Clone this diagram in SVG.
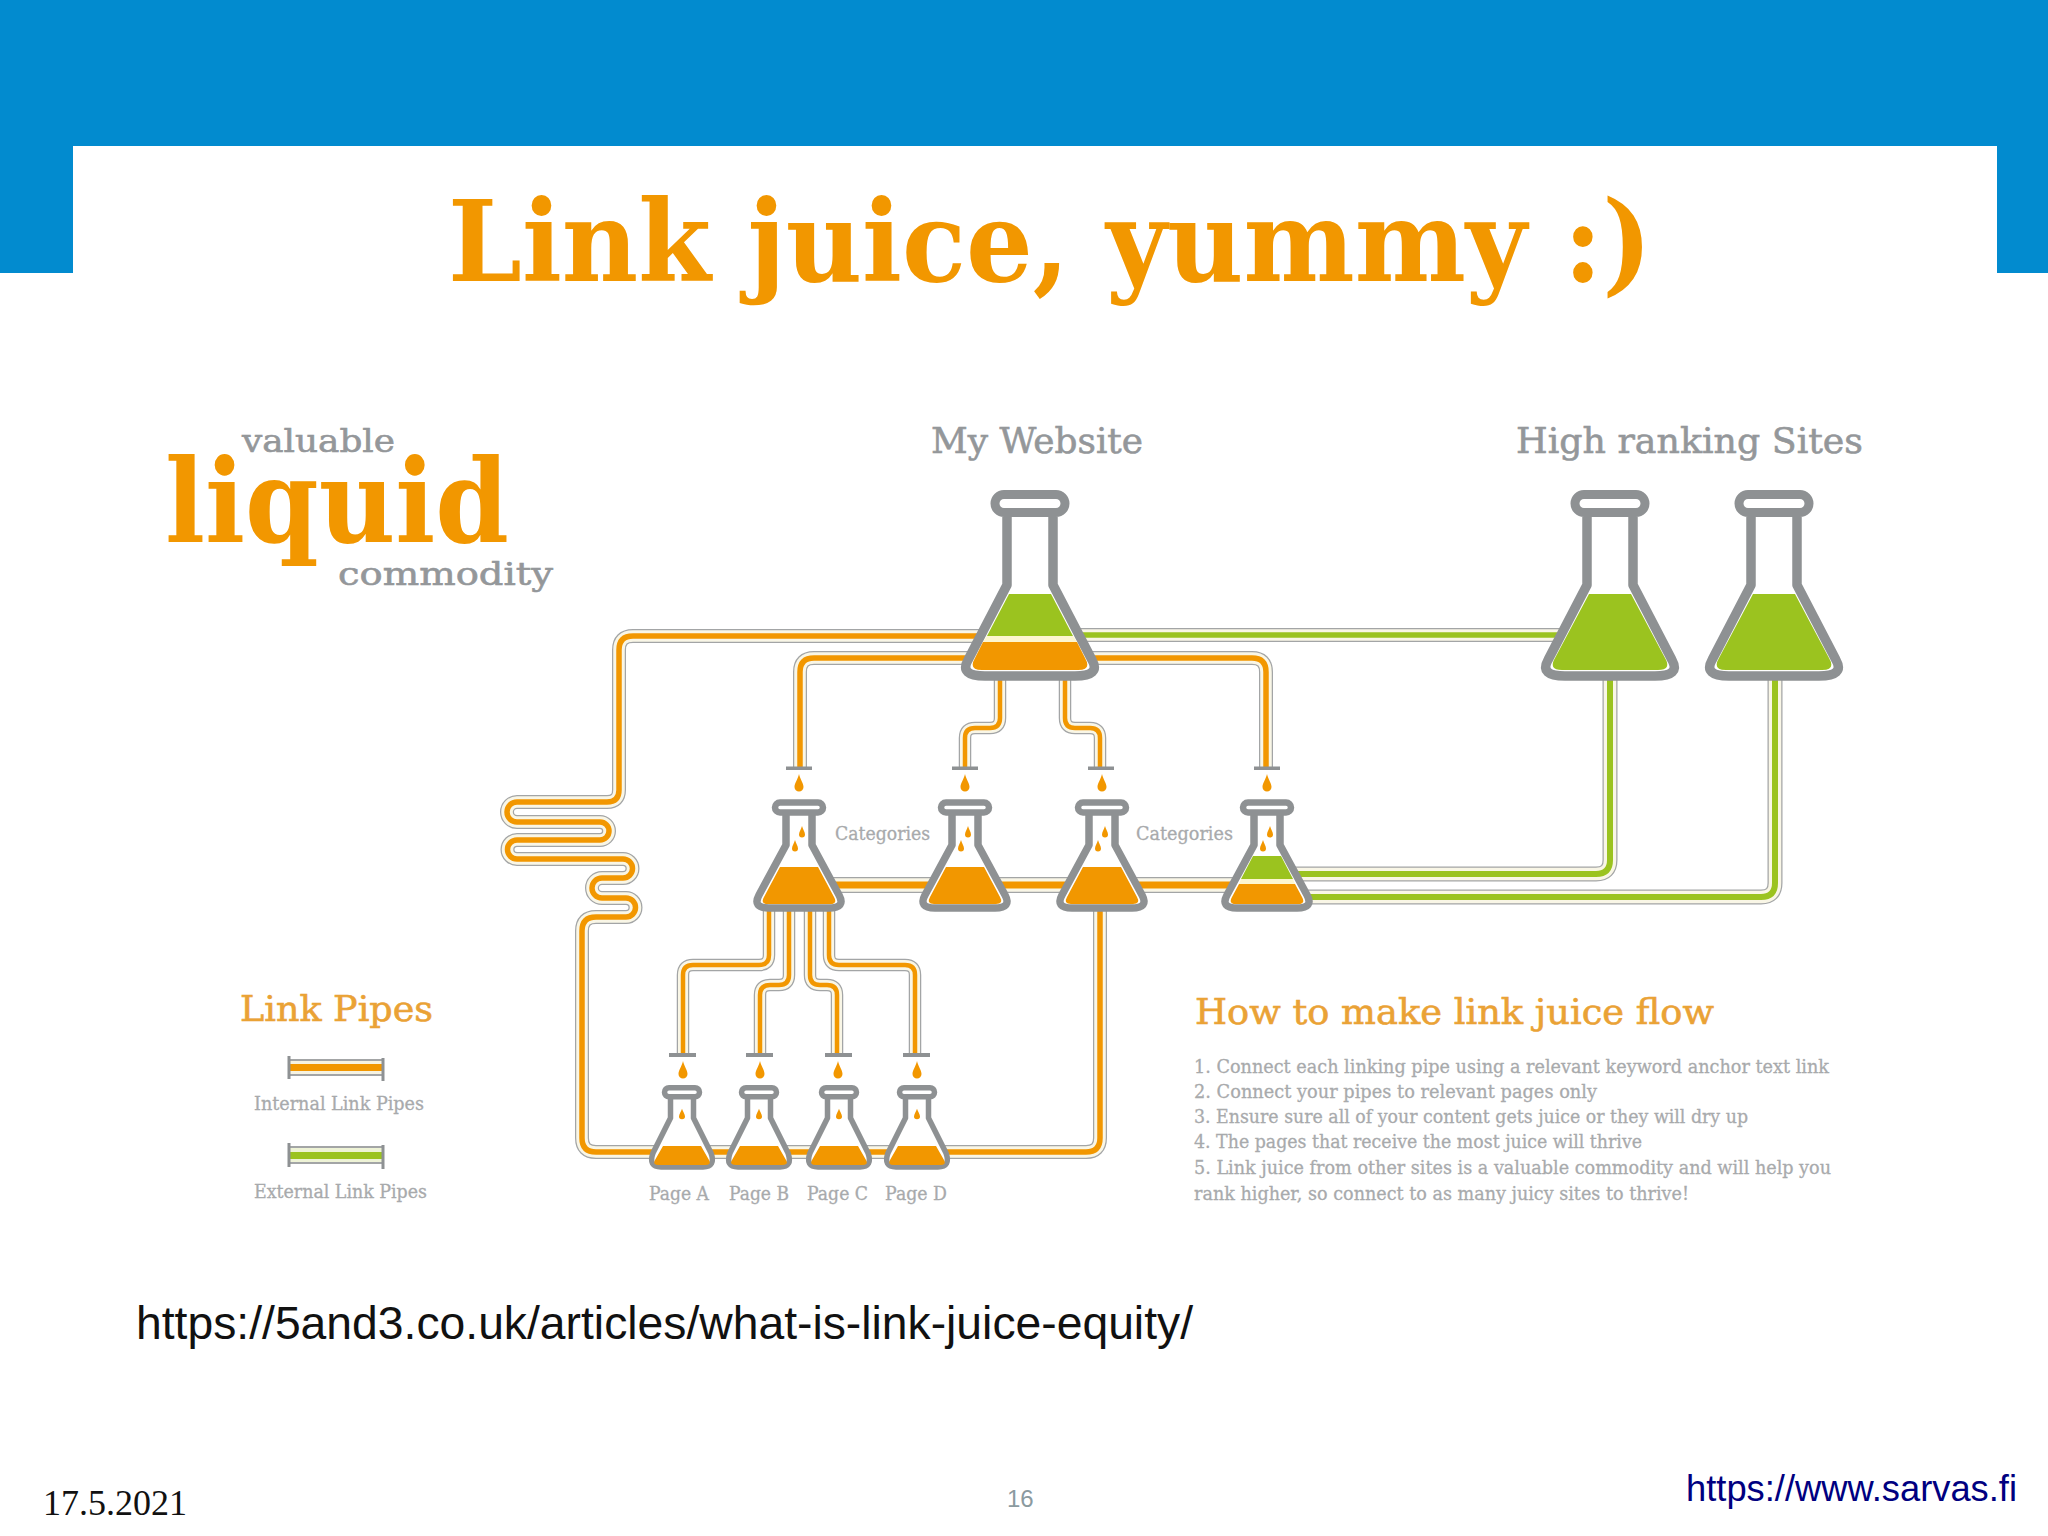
<svg xmlns="http://www.w3.org/2000/svg" xmlns:xlink="http://www.w3.org/1999/xlink" width="2048" height="1536" viewBox="0 0 2048 1536">
<style>
.glass{fill:#fff;stroke:#8e9193;stroke-linejoin:round}
.o{fill:#f29700}.g{fill:#9bc31f}
.w14,.w12,.w16,.w15{fill:none;stroke:#a3a5a6}
.w14{stroke-width:14}.w12{stroke-width:12.500}.w16{stroke-width:16}.w15{stroke-width:15}
.c14,.c12,.c16,.c15{fill:none;stroke:#f9f6e6}
.c14{stroke-width:11.500}.c12{stroke-width:10}.c16{stroke-width:13.500}.c15{stroke-width:12.500}
.co14,.co12,.co16{fill:none;stroke:#f29700}
.cg14,.cg16,.cg15{fill:none;stroke:#9bc31f}
.co14,.cg14{stroke-width:5.500}.co12{stroke-width:4.500}.co16,.cg16{stroke-width:7}.cg15{stroke-width:6}
.fl{fill:#8e9193}
.t{font-family:"DejaVu Serif","Liberation Serif",serif}
.gr{fill:#94979a;stroke:#94979a;stroke-width:.6}.lg{fill:#a8aaac;stroke:#a8aaac;stroke-width:.3}.or{fill:#f29700}.lo{fill:#eaa235;stroke:#eaa235;stroke-width:.6}
.b{font-weight:bold}
</style>
<defs>
<path id="drop" d="M0-9C1-4 4.500 0 4.500 4A4.500 4.500 0 0 1-4.500 4C-4.500 0-1-4 0-9Z" class="o"/>
<path id="dropS" d="M0-6C.8-3 3 0 3 2.500A3 3 0 0 1-3 2.500C-3 0-.8-3 0-6Z" class="o"/>
<g id="bigGlass">
<path class="glass" stroke-width="9.500" d="M-23 27V95L-62 170Q-71 186-45 186H45Q71 186 62 170L23 95V27"/>
<rect class="glass" stroke-width="9" x="-35" y="4.500" width="70" height="18" rx="9"/>
</g>
<g id="catGlass">
<path class="glass" stroke-width="7.500" d="M-13 16V46L-40 96Q-47 109-30 109H30Q47 109 40 96L13 46V16"/>
<rect class="glass" stroke-width="6.500" x="-24" y="3.500" width="48" height="10" rx="5"/>
<use href="#dropS" x="3" y="33"/><use href="#dropS" x="-4" y="47"/>
</g>
<g id="pageGlass">
<path class="glass" stroke-width="5.500" d="M-11.500 14V33L-29 68Q-34 82-21 82H21Q34 82 29 68L11.500 33V14"/>
<rect class="glass" stroke-width="5.500" x="-17.500" y="2.750" width="35" height="9" rx="4.500"/>
<use href="#dropS" x="0" y="28" transform="translate(0 4) scale(1 .9)"/>
</g>
<path id="pgLiquid" d="M-19 61H19L27 75Q30 80 23 80H-23Q-30 80-27 75Z" class="o"/>
<path id="catLiquid" d="M-19 68H19L35 98Q39 105 31 105H-31Q-39 105-35 98Z" class="o"/>
<path id="p1" d="M980 636H633Q619 636 619 650V790Q619 802 607 802H517A10 10 0 0 0 517 822H600A9 9 0 0 1 600 840H517A9.500 9.500 0 0 0 517 859H623A9.500 9.500 0 0 1 623 878H602A10 10 0 0 0 602 898H626A9.500 9.500 0 0 1 626 917H596Q582 917 582 931V1138Q582 1152 596 1152H1086Q1100 1152 1100 1138V905"/>
<path id="p2" d="M980 658H814Q800 658 800 672V768"/>
<path id="p3" d="M1080 658H1252Q1266 658 1266 672V768"/>
<path id="p4" d="M1000 675V718Q1000 728 990 728H975Q965 728 965 738V768"/>
<path id="p5" d="M1065 675V718Q1065 728 1075 728H1090Q1100 728 1100 738V768"/>
<path id="a" d="M769 905V955Q769 965 759 965H693Q683 965 683 975V1055"/>
<path id="bb" d="M789 905V975Q789 985 779 985H770Q760 985 760 995V1055"/>
<path id="cc" d="M810 905V975Q810 985 820 985H827Q837 985 837 995V1055"/>
<path id="dd" d="M829 905V955Q829 965 839 965H905Q915 965 915 975V1055"/>
<path id="row" d="M830 885H1250"/>
<path id="gt" d="M1070 635H1600"/>
<path id="g1" d="M1260 874H1596Q1610 874 1610 860V675"/>
<path id="g2" d="M1260 897H1761Q1775 897 1775 883V675"/>
</defs>

<rect width="2048" height="1536" fill="#fff"/>
<path fill="#028bcf" d="M0 0H2048V273H1997V146H73V273H0Z"/>

<g id="connectors">
<use href="#p1" class="w14"/><use href="#p1" class="c14"/><use href="#p1" class="co14"/>
<use href="#p2" class="w14"/><use href="#p2" class="c14"/><use href="#p2" class="co14"/>
<use href="#p3" class="w14"/><use href="#p3" class="c14"/><use href="#p3" class="co14"/>
<use href="#p4" class="w12"/><use href="#p4" class="c12"/><use href="#p4" class="co12"/>
<use href="#p5" class="w12"/><use href="#p5" class="c12"/><use href="#p5" class="co12"/>
<use href="#a" class="w12"/><use href="#a" class="c12"/><use href="#a" class="co12"/>
<use href="#bb" class="w12"/><use href="#bb" class="c12"/><use href="#bb" class="co12"/>
<use href="#cc" class="w12"/><use href="#cc" class="c12"/><use href="#cc" class="co12"/>
<use href="#dd" class="w12"/><use href="#dd" class="c12"/><use href="#dd" class="co12"/>
<use href="#row" class="w16"/><use href="#row" class="c16"/><use href="#row" class="co16"/>
<use href="#gt" class="w14"/><use href="#gt" class="c14"/><use href="#gt" class="cg14"/>
<use href="#g1" class="w15"/><use href="#g1" class="c15"/><use href="#g1" class="cg15"/>
<use href="#g2" class="w15"/><use href="#g2" class="c15"/><use href="#g2" class="cg15"/>
<rect class="fl" x="786" y="766.500" width="26" height="3.500"/>
<rect class="fl" x="952" y="766.500" width="26" height="3.500"/>
<rect class="fl" x="1088" y="766.500" width="26" height="3.500"/>
<rect class="fl" x="1254" y="766.500" width="26" height="3.500"/>
<rect class="fl" x="669" y="1053" width="27" height="4"/>
<rect class="fl" x="746" y="1053" width="27" height="4"/>
<rect class="fl" x="825" y="1053" width="27" height="4"/>
<rect class="fl" x="903" y="1053" width="27" height="4"/>
<use href="#drop" x="799" y="783"/><use href="#drop" x="965" y="783"/><use href="#drop" x="1102" y="783"/><use href="#drop" x="1267" y="783"/>
<use href="#drop" x="683" y="1070"/><use href="#drop" x="760" y="1070"/><use href="#drop" x="838" y="1070"/><use href="#drop" x="917" y="1070"/>
</g>

<g id="my-website" transform="translate(1030 490)">
<use href="#bigGlass"/>
<path class="g" d="M-21 104H21L43 146H-43Z"/>
<path fill="#fdf6cf" d="M-43 146H43L47 152H-47Z"/>
<path class="o" d="M-47 152H47L55 168Q62 180 48 180H-48Q-62 180-55 168Z"/>
</g>
<g id="high-site-1" transform="translate(1610 490)">
<use href="#bigGlass"/>
<path class="g" d="M-21 104H21L55 168Q62 180 48 180H-48Q-62 180-55 168Z"/>
</g>
<g id="high-site-2" transform="translate(1774 490)">
<use href="#bigGlass"/>
<path class="g" d="M-21 104H21L55 168Q62 180 48 180H-48Q-62 180-55 168Z"/>
</g>
<g id="category-1" transform="translate(799 799)"><use href="#catGlass"/><use href="#catLiquid"/></g>
<g id="category-2" transform="translate(965 799)"><use href="#catGlass"/><use href="#catLiquid"/></g>
<g id="category-3" transform="translate(1102 799)"><use href="#catGlass"/><use href="#catLiquid"/></g>
<g id="category-4" transform="translate(1267 799)"><use href="#catGlass"/>
<path class="g" d="M-14 57H14L26 80H-26Z"/>
<path fill="#fdf6cf" d="M-26 80H26L28 85H-28Z"/>
<path class="o" d="M-28 85H28L35 98Q39 105 31 105H-31Q-39 105-35 98Z"/>
</g>
<g id="page-a" transform="translate(682 1085)"><use href="#pageGlass"/><use href="#pgLiquid"/></g>
<g id="page-b" transform="translate(759 1085)"><use href="#pageGlass"/><use href="#pgLiquid"/></g>
<g id="page-c" transform="translate(839 1085)"><use href="#pageGlass"/><use href="#pgLiquid"/></g>
<g id="page-d" transform="translate(917 1085)"><use href="#pageGlass"/><use href="#pgLiquid"/></g>

<g id="legend">
<rect x="289" y="1060" width="94" height="15" fill="#f6f3e2"/>
<rect x="289" y="1059" width="94" height="2" fill="#a3a5a6"/><rect x="289" y="1074" width="94" height="2" fill="#a3a5a6"/>
<rect x="289" y="1064" width="94" height="7" class="o"/>
<rect x="287.500" y="1056" width="3" height="23" class="fl"/><rect x="381.500" y="1058" width="3" height="23" class="fl"/>
<rect x="289" y="1147" width="94" height="16" fill="#eef3d6"/>
<rect x="289" y="1146" width="94" height="2" fill="#a3a5a6"/><rect x="289" y="1162" width="94" height="2" fill="#a3a5a6"/>
<rect x="289" y="1152" width="94" height="7" class="g"/>
<rect x="287.500" y="1143" width="3" height="24" class="fl"/><rect x="381.500" y="1145" width="3" height="24" class="fl"/>
</g>

<g id="labels">
<text class="t b or" x="448" y="281" font-size="113" textLength="1204" lengthAdjust="spacingAndGlyphs">Link juice, yummy :)</text>
<text class="t gr" x="931" y="453" font-size="36" textLength="212" lengthAdjust="spacingAndGlyphs">My Website</text>
<text class="t gr" x="1516" y="453" font-size="36" textLength="347" lengthAdjust="spacingAndGlyphs">High ranking Sites</text>
<text class="t gr" x="242" y="452" font-size="32" textLength="153" lengthAdjust="spacingAndGlyphs">valuable</text>
<text class="t b or" x="165" y="542" font-size="116" textLength="344" lengthAdjust="spacingAndGlyphs">liquid</text>
<text class="t gr" x="338" y="585" font-size="32" textLength="215" lengthAdjust="spacingAndGlyphs">commodity</text>
<text class="t lg" x="835" y="840" font-size="19" textLength="95" lengthAdjust="spacingAndGlyphs">Categories</text>
<text class="t lg" x="1136" y="840" font-size="19" textLength="97" lengthAdjust="spacingAndGlyphs">Categories</text>
<text class="t lg" x="649" y="1200" font-size="18" textLength="60" lengthAdjust="spacingAndGlyphs">Page A</text>
<text class="t lg" x="729" y="1200" font-size="18" textLength="60" lengthAdjust="spacingAndGlyphs">Page B</text>
<text class="t lg" x="807" y="1200" font-size="18" textLength="61" lengthAdjust="spacingAndGlyphs">Page C</text>
<text class="t lg" x="885" y="1200" font-size="18" textLength="62" lengthAdjust="spacingAndGlyphs">Page D</text>
<text class="t lo" x="240" y="1021" font-size="36" textLength="193" lengthAdjust="spacingAndGlyphs">Link Pipes</text>
<text class="t lg" x="254" y="1110" font-size="18" textLength="170" lengthAdjust="spacingAndGlyphs">Internal Link Pipes</text>
<text class="t lg" x="254" y="1198" font-size="18" textLength="173" lengthAdjust="spacingAndGlyphs">External Link Pipes</text>
<text class="t lo" x="1195" y="1024" font-size="36" textLength="519" lengthAdjust="spacingAndGlyphs">How to make link juice flow</text>
<text class="t lg" x="1194" y="1073" font-size="19" textLength="635" lengthAdjust="spacingAndGlyphs">1. Connect each linking pipe using a relevant keyword anchor text link</text>
<text class="t lg" x="1194" y="1098" font-size="19" textLength="403" lengthAdjust="spacingAndGlyphs">2. Connect your pipes to relevant pages only</text>
<text class="t lg" x="1194" y="1123" font-size="19" textLength="554" lengthAdjust="spacingAndGlyphs">3. Ensure sure all of your content gets juice or they will dry up</text>
<text class="t lg" x="1194" y="1148" font-size="19" textLength="448" lengthAdjust="spacingAndGlyphs">4. The pages that receive the most juice will thrive</text>
<text class="t lg" x="1194" y="1174" font-size="19" textLength="637" lengthAdjust="spacingAndGlyphs">5. Link juice from other sites is a valuable commodity and will help you</text>
<text class="t lg" x="1194" y="1200" font-size="19" textLength="495" lengthAdjust="spacingAndGlyphs">rank higher, so connect to as many juicy sites to thrive!</text>
<text x="136" y="1339" font-family="Liberation Sans, Arial, sans-serif" font-size="46" fill="#111" textLength="1057" lengthAdjust="spacingAndGlyphs">https://5and3.co.uk/articles/what-is-link-juice-equity/</text>
<text x="43" y="1515" font-family="Liberation Serif, serif" font-size="36" fill="#111">17.5.2021</text>
<text x="1007" y="1507" font-family="Liberation Sans, sans-serif" font-size="24" fill="#8b9a9f">16</text>
<text x="1686" y="1501" font-family="Liberation Sans, sans-serif" font-size="37" fill="#000080" textLength="331" lengthAdjust="spacingAndGlyphs">https://www.sarvas.fi</text>
</g>
</svg>
